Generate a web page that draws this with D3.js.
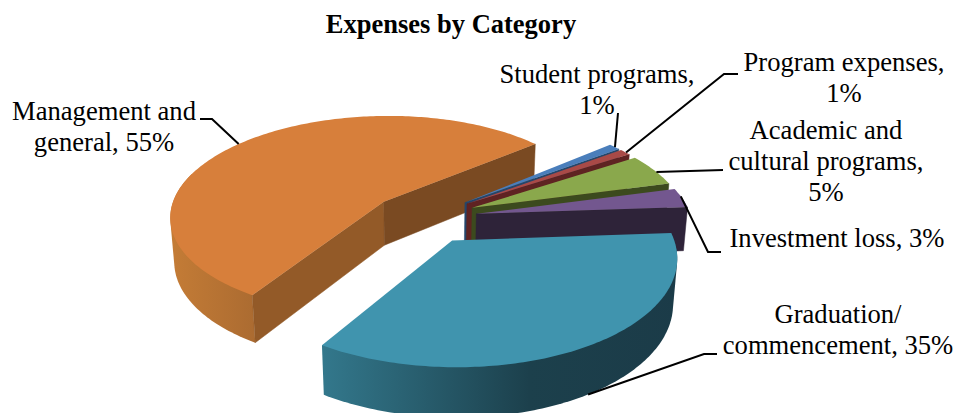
<!DOCTYPE html>
<html>
<head>
<meta charset="utf-8">
<script src="https://cdn.jsdelivr.net/npm/d3@7"></script>
<style>
  html, body { margin: 0; padding: 0; background: #fff; }
  svg { display: block; }
  text { font-family: "Liberation Serif", "Times New Roman", serif; fill: #000; }
</style>
</head>
<body>
<div id="chart"></div>
<script>
// Expense shares, clockwise from the slice just after the back seam of the pie
const categories = ["Student programs", "Program expenses", "Academic and cultural programs",
                    "Investment loss", "Graduation/commencement", "Management and general"];
const shares = [1, 1, 5, 3, 35, 55];
const chartTitle = "Expenses by Category";

// Label text per slice; the share is appended to the last line
const labelLines = [
  ["Student programs,", ""],
  ["Program expenses,", ""],
  ["Academic and", "cultural programs,", ""],
  ["Investment loss, "],
  ["Graduation/", "commencement, "],
  ["Management and", "general, "]
];

const topColors  = ["#4a7ebb", "#a94a47", "#8aa84c", "#73578f", "#4094ae", "#d77f3b"];
const wallColors = ["#24466b", "#5f2322", "#3c4a1e", "#2e2339", "#1b3b48", "#7a4a22"];
const startWallColors = ["#24466b", "#5f2322", "#3c4a1e", "#2e2339", "#1b3b48", "#935a28"];
const explode = [0.25, 0.25, 0.25, 0.25, 0.25, 0.25];

const width = 954, height = 413;

// Camera model for the tilted disc
const radius = 215.5, tiltedRadius = 102, perspective = 0.14, depthShrink = 0.016, thickness = 45;
const cx = 423.5, cy = 218;

const toRad = d => d * Math.PI / 180;
const project = (gx, gy, bottom) => {
  const w = 1 - perspective * gy + (bottom ? depthShrink : 0);
  return [cx + radius * gx / w, cy + (tiltedRadius * gy + (bottom ? thickness : 0)) / w];
};

const pie = d3.pie().sort(null).startAngle(toRad(50)).endAngle(toRad(410));
const arcs = pie(shares).map((a, i) => {
  const start = a.startAngle - Math.PI / 2, end = a.endAngle - Math.PI / 2, mid = (start + end) / 2;
  return { i, start, end, ox: explode[i] * Math.cos(mid), oy: explode[i] * Math.sin(mid) };
});

const rim = (s, t, bottom) => project(s.ox + Math.cos(t), s.oy + Math.sin(t), bottom);
const apex = (s, bottom) => project(s.ox, s.oy, bottom);
const sweep = (a, b) => {
  const n = Math.max(2, Math.ceil(Math.abs(b - a) / toRad(1)));
  return d3.range(n + 1).map(k => a + (b - a) * k / n);
};
const line = d3.line().curve(d3.curveLinear);

const svg = d3.select("#chart").append("svg").attr("width", width).attr("height", height)
  .attr("viewBox", [0, 0, width, height]);

// Rim shading runs left to right in page space
const defs = svg.append("defs");
const rimGradient = (id, x1, x2, stops) => {
  const g = defs.append("linearGradient").attr("id", id).attr("gradientUnits", "userSpaceOnUse")
    .attr("x1", x1).attr("x2", x2).attr("y1", 0).attr("y2", 0);
  stops.forEach(([o, c]) => g.append("stop").attr("offset", o).attr("stop-color", c));
};
rimGradient("rimTeal", 322, 680, [[0, "#33788c"], [0.58, "#1c404c"], [1, "#1b3b48"]]);
rimGradient("rimOrange", 171, 256, [[0, "#c47c36"], [1, "#ab6b31"]]);

const rimFill = { 4: "url(#rimTeal)", 5: "url(#rimOrange)" };

// Painter's order: the far-left slice first, then the thin slices, the large front slice last
const order = [5, 0, 1, 2, 3, 4];
const pieGroup = svg.append("g").attr("class", "pie");

order.forEach(i => {
  const s = arcs[i];
  const g = pieGroup.append("g").attr("class", "slice");

  // Outer wall: hull of the upper and lower rims, so the silhouette runs cleanly between them
  const from = Math.max(s.start, -0.3), to = Math.min(s.end, Math.PI + 0.3);
  if (rimFill[i] && to > from) {
    const angles = sweep(from, to);
    const pts = angles.map(t => rim(s, t, false)).concat(angles.map(t => rim(s, t, true)));
    g.append("path").attr("d", line(d3.polygonHull(pts)) + "Z").attr("fill", rimFill[i]);
  }

  // Radial walls, skipped when they face away
  const wall = (t, color) => g.append("path")
    .attr("d", line([apex(s, false), rim(s, t, false), rim(s, t, true), apex(s, true)]) + "Z")
    .attr("fill", color).attr("stroke", color).attr("stroke-width", 0.5);
  if (Math.cos(s.start) < 0) wall(s.start, startWallColors[i]);
  if (Math.cos(s.end) > 0) wall(s.end, wallColors[i]);

  // Top face
  const top = [apex(s, false)].concat(sweep(s.start, s.end).map(t => rim(s, t, false)));
  g.append("path").attr("d", line(top) + "Z").attr("fill", topColors[i]);
});

// Where each leader touches its slice, as a fraction along the rim
const leaderFraction = [0.55, 0.6, 0.58, 0.42, 0.49, 0.495];
const leaderOnBottom = [false, false, false, false, true, false];
// Remaining leader vertices and label anchors are label layout
const leaderTail = [
  [[618, 113]],
  [[724, 74], [738, 74]],
  [[723, 170]],
  [[708, 252], [721, 252]],
  [[704, 354], [717, 354]],
  [[212, 119], [200, 119]]
];
const labelCenter = [597, 844, 826, 837, 838, 104];
const labelBaseline = [83, 71, 139, 247, 323, 120];
const labelStep = 31;

const leaders = svg.append("g").attr("class", "leaders")
  .attr("fill", "none").attr("stroke", "#000").attr("stroke-width", 2);
arcs.forEach(s => {
  const t = s.start + (s.end - s.start) * leaderFraction[s.i];
  const pts = [rim(s, t, leaderOnBottom[s.i])].concat(leaderTail[s.i]);
  leaders.append("path").attr("d", line(pts));
});

const labels = svg.append("g").attr("class", "labels").attr("text-anchor", "middle").attr("font-size", 26.6);
labelLines.forEach((lines, i) => {
  const text = labels.append("text").attr("aria-label", categories[i]);
  lines.forEach((l, k) => {
    const isLast = k === lines.length - 1;
    text.append("tspan")
      .attr("x", labelCenter[i])
      .attr("y", labelBaseline[i] + k * labelStep)
      .text(isLast ? `${l}${shares[i]}%` : l);
  });
});

svg.append("text").attr("x", 451).attr("y", 33).attr("text-anchor", "middle")
  .attr("font-size", 26.5).attr("font-weight", "bold").text(chartTitle);
</script>
</body>
</html>
